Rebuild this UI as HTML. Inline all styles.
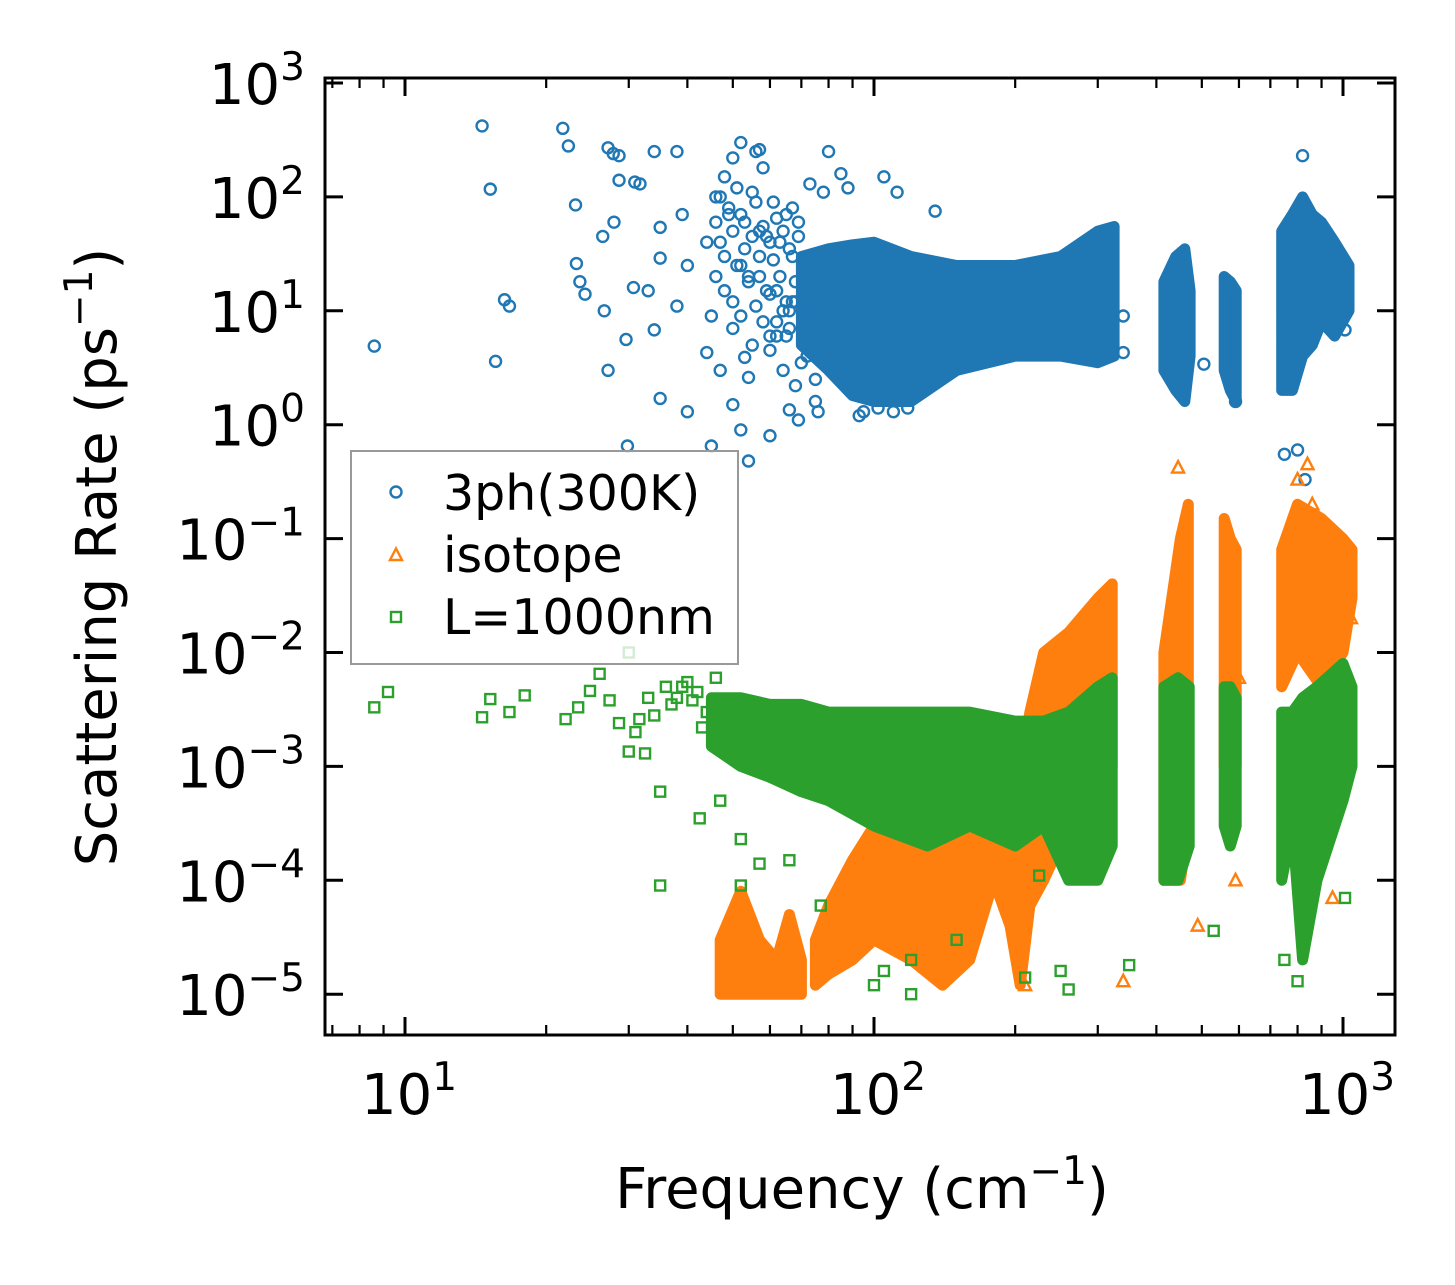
<!DOCTYPE html>
<html><head><meta charset="utf-8">
<style>
html,body{margin:0;padding:0;background:#fff;}
svg{display:block;font-family:"DejaVu Sans","Liberation Sans",sans-serif;}
</style></head>
<body>
<svg id="chart" width="1455" height="1285" viewBox="0 0 1455 1285" xmlns="http://www.w3.org/2000/svg">
<rect width="1455" height="1285" fill="#fff"/>
<defs><clipPath id="plotclip"><rect x="325" y="78" width="1070" height="957"/></clipPath></defs>
<g id="plot" clip-path="url(#plotclip)"></g>
<g id="axes"></g>
<g id="legend"></g>
</svg>
<script>
// ---- data (frequency in cm^-1, rate in ps^-1) ----
const blueBandX  = [[70,80,90,100,120,150,200,250,300,325],[415,440,460,472],[558,575,592],[740,780,820,860,900,960,1030]];
const blueBandLo = [[5,3,1.8,1.6,1.6,3,4,4,3.5,4],[3,2,1.6,4],[3,2,1.6],[2,2,4,5,8,6,10]];
const blueBandHi = [[30,35,38,40,30,25,25,30,50,55],[18,30,35,15],[20,18,15],[50,70,100,70,60,40,25]];
const orangeBandX  = [[47,52,57,62,66,70],[75,80,90,100,120,140,160,180,195,205,215,230,260,300,322],[415,450,468],[558,575,592],[740,800,900,1000,1045]];
const orangeBandLo = [[1e-5,1e-5,1e-5,1e-5,1e-5,1e-5],[1.2e-5,1.5e-5,2e-5,3e-5,2e-5,1.2e-5,2e-5,1e-4,4e-5,1.2e-5,6e-5,1e-4,3e-4,5e-4,1e-3],[1e-4,1e-4,3e-4],[1e-3,8e-4,1e-3],[5e-3,1e-2,5e-3,1e-2,3e-2]];
const orangeBandHi = [[3e-5,8e-5,3e-5,2e-5,5e-5,2e-5],[3e-5,6e-5,1.5e-4,3e-4,5e-4,4e-4,6e-4,1e-3,6e-4,1e-3,3e-3,1e-2,1.5e-2,3e-2,4e-2],[1e-2,0.1,0.2],[0.15,0.1,0.08],[0.08,0.2,0.15,0.1,0.08]];
const greenBandX  = [[45,52,60,70,80,100,130,160,200,230,260,300,322],[415,445,470],[558,575,592],[740,780,820,880,1000,1045]];
const greenBandLo = [[1.5e-3,1e-3,8e-4,6e-4,5e-4,3e-4,2e-4,3e-4,2e-4,3e-4,1e-4,1e-4,2e-4],[1e-4,1e-4,2e-4],[3e-4,2e-4,3e-4],[1e-4,3e-4,2e-5,1e-4,5e-4,1e-3]];
const greenBandHi = [[4e-3,4e-3,3.5e-3,3.5e-3,3e-3,3e-3,3e-3,3e-3,2.5e-3,2.5e-3,3e-3,5e-3,6e-3],[5e-3,6e-3,5e-3],[5e-3,5e-3,4e-3],[3e-3,3e-3,4e-3,5e-3,8e-3,5e-3]];
const blueX = [8.6,14.6,15.2,16.3,16.7,15.6,21.7,22.3,23.1,23.2,23.6,24.2,27.1,27.8,28.6,26.4,27.9,26.6,27.1,28.6,30.9,31.7,29.8,30.7,29.6,34,38,35,35,33,34,35,38,39,40,44,44,45,40,53,52,50,54,54,45,47,60,66,69,75,80,102,93,110,135,340,340,505,590,750,800,830,830,820,1010,46,48,50,52,56,58,60,64,68,72,76,57,62,66,73,78,85,88,95,105,112,118,125,
  46,47,48,49,50,51,52,53,54,55,56,57,58,59,60,61,62,63,64,65,66,67,68,69,46,48,50,52,54,56,58,60,62,64,66,68,47,49,51,53,55,57,59,61,63,65,67,69,50,55,60,65,70,75,52,57,62,67,72];
const blueY = [4.9,420,117,12.5,11,3.6,400,280,85,26,18,14,270,240,230,45,60,10,3,140,135,130,0.65,16,5.6,250,250,54,29,15,6.8,1.7,11,70,1.3,40,4.3,9,25,3.9,0.9,1.5,2.6,0.48,0.65,3.0,0.8,1.35,1.1,1.6,250,1.4,1.2,1.3,75,4.3,9,3.4,1.6,0.55,0.6,0.33,80,230,6.8,100,150,220,300,250,180,6,3,2.2,4,1.3,260,8,10,130,110,160,120,1.3,150,110,1.4,5,
  60,40,30,80,50,25,70,35,20,45,90,30,55,15,40,28,65,20,50,12,35,80,18,45,20,15,12,9,18,11,8,14,6,10,7,12,100,70,120,60,110,50,45,90,40,70,30,60,7,5,4.5,6,3.5,2.5,25,20,15,12,10];
const orangeX = [445,490,340,210,1010,1010,840,800,860,950,460,430,580,600,590,935,975,1040];
const orangeY = [0.42,4e-5,1.3e-5,1.2e-5,0.054,0.03,0.45,0.33,0.2,7e-5,4e-4,1e-3,3e-3,6e-3,1e-4,0.03,0.05,0.02];
const greenX = [8.6,9.2,14.6,15.2,16.7,18.0,22,23.4,24.8,27.3,28.6,30,31.6,35,35,31,32.5,26,30,42.5,47,52,52,57,66,77,260,250,350,530,800,750,970,1010,100,105,120,120,150,210,225,36,38,40,42,44,33,34,37,39,41,43,46,48];
const greenY = [3.3e-3,4.5e-3,2.7e-3,3.9e-3,3e-3,4.2e-3,2.6e-3,3.3e-3,4.6e-3,3.8e-3,2.4e-3,1.35e-3,2.6e-3,6e-4,9e-5,2e-3,1.3e-3,6.5e-3,1e-2,3.5e-4,5e-4,9e-5,2.3e-4,1.4e-4,1.5e-4,6e-5,1.1e-5,1.6e-5,1.8e-5,3.6e-5,1.3e-5,2e-5,8e-4,7e-5,1.2e-5,1.6e-5,1e-5,2e-5,3e-5,1.4e-5,1.1e-4,5e-3,4e-3,5.5e-3,4.5e-3,3e-3,4e-3,2.8e-3,3.5e-3,5e-3,3.8e-3,2.2e-3,6e-3,1.8e-3];
const xTickVals = [10,100,1000];
const xTickExp = ["1","2","3"];
const yTickVals = [1e3,1e2,1e1,1e0,1e-1,1e-2,1e-3,1e-4,1e-5];
const yTickLabels = ["3","2","1","0","\u22121","\u22122","\u22123","\u22124","\u22125"];

const L=325,R=1395,T=78,B=1035;
const X0=405,XD=469;
const Y0=83,YD=113.9;
function sx(v){return X0+(Math.log10(v)-1)*XD;}
function sy(v){return Y0+(3-Math.log10(v))*YD;}
const NS='http://www.w3.org/2000/svg';
function mk(tag,attrs,parent){const e=document.createElementNS(NS,tag);for(const k in attrs)e.setAttribute(k,attrs[k]);parent.appendChild(e);return e;}
const plot=document.getElementById('plot');
const axes=document.getElementById('axes');
const legend=document.getElementById('legend');
const C={blue:'#1f77b4',orange:'#ff7f0e',green:'#2ca02c'};

function bands(xs,lo,hi,color,name){
  for(let b=0;b<xs.length;b++){
    let pts=[];
    for(let i=0;i<xs[b].length;i++)pts.push(sx(xs[b][i]).toFixed(1)+','+sy(hi[b][i]).toFixed(1));
    for(let i=xs[b].length-1;i>=0;i--)pts.push(sx(xs[b][i]).toFixed(1)+','+sy(lo[b][i]).toFixed(1));
    const p=mk('polygon',{points:pts.join(' '),fill:color,stroke:color,'stroke-width':11,'stroke-linejoin':'round'},plot);
    
    
  }
}
function circle(x,y,color,parent){return mk('circle',{cx:x,cy:y,r:5.5,fill:'none',stroke:color,'stroke-width':2.4},parent);}
function tri(x,y,color,parent){return mk('polygon',{points:`${x},${y-6.5} ${x-6},${y+5} ${x+6},${y+5}`,fill:'none',stroke:color,'stroke-width':2.4},parent);}
function sq(x,y,color,parent){return mk('rect',{x:x-5,y:y-5,width:10,height:10,fill:'none',stroke:color,'stroke-width':2.4},parent);}

bands(blueBandX,blueBandLo,blueBandHi,C.blue,'3ph');
for(let i=0;i<blueX.length;i++){
  const e=circle(sx(blueX[i]),sy(blueY[i]),C.blue,plot);
  
  
}
bands(orangeBandX,orangeBandLo,orangeBandHi,C.orange,'isotope');
for(let i=0;i<orangeX.length;i++){
  const e=tri(sx(orangeX[i]),sy(orangeY[i]),C.orange,plot);
  
  
}
bands(greenBandX,greenBandLo,greenBandHi,C.green,'boundary');
for(let i=0;i<greenX.length;i++){
  const e=sq(sx(greenX[i]),sy(greenY[i]),C.green,plot);
  
  
}

const fr=mk('rect',{x:L,y:T,width:R-L,height:B-T,fill:'none',stroke:'#000','stroke-width':3},axes);


for(let d=0;d<4;d++){
  for(let m=1;m<10;m++){
    const v=m*Math.pow(10,d);
    const x=sx(v);
    if(x<L+2||x>R-2)continue;
    const len=m===1?18:10;
    const t1=mk('line',{x1:x,y1:B,x2:x,y2:B-len,stroke:'#000','stroke-width':m===1?3:2.2},axes);
    
    
    const t2=mk('line',{x1:x,y1:T,x2:x,y2:T+len,stroke:'#000','stroke-width':m===1?3:2.2},axes);
    
    
  }
}
for(let i=0;i<xTickVals.length;i++){
  const x=sx(xTickVals[i]);
  const t=mk('text',{x:x+4,y:1114,'font-size':56,'text-anchor':'middle',fill:'#000'},axes);
  
  
  t.innerHTML='10<tspan dy="-24" font-size="39">'+xTickExp[i]+'</tspan>';
}
for(let i=0;i<yTickVals.length;i++){
  const y=sy(yTickVals[i]);
  const a=mk('line',{x1:L,y1:y,x2:L+18,y2:y,stroke:'#000','stroke-width':3},axes);
  
  
  const b=mk('line',{x1:R,y1:y,x2:R-18,y2:y,stroke:'#000','stroke-width':3},axes);
  
  
  const t=mk('text',{x:305,y:y+21,'font-size':56,'text-anchor':'end',fill:'#000'},axes);
  
  
  t.innerHTML='10<tspan dy="-24" font-size="39">'+yTickLabels[i]+'</tspan>';
}
const xl=mk('text',{x:862,y:1208,'font-size':56,'text-anchor':'middle',fill:'#000'},axes);


xl.innerHTML='Frequency (cm<tspan dy="-24" font-size="39">\u22121</tspan><tspan dy="24">)</tspan>';
const yl=mk('text',{x:0,y:0,'font-size':56,'text-anchor':'middle',fill:'#000',transform:'translate(116,557) rotate(-90)'},axes);


yl.innerHTML='Scattering Rate (ps<tspan dy="-24" font-size="39">\u22121</tspan><tspan dy="24">)</tspan>';

const lb=mk('rect',{x:351,y:451,width:387,height:213,fill:'#fff','fill-opacity':0.8,stroke:'#999','stroke-width':2},legend);


const items=[['3ph(300K)',C.blue,circle,492,510],['isotope',C.orange,tri,555,572],['L=1000nm',C.green,sq,617,634]];
for(const it of items){
  const m=it[2](396,it[3],it[1],legend);
  
  
  const t=mk('text',{x:443,y:it[4],'font-size':49,fill:'#000'},legend);
  t.textContent=it[0];
  
  
}
</script>
</body></html>
